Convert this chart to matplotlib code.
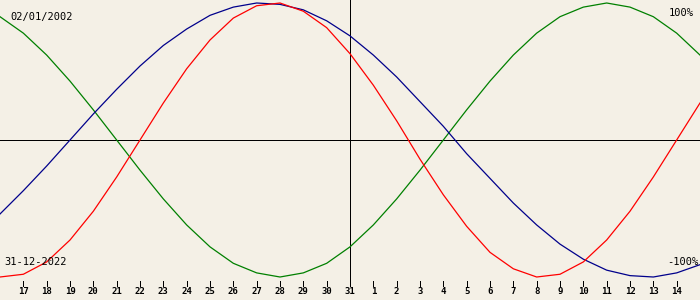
import numpy as np
import matplotlib.pyplot as plt

# biorhythm around 31-12-2022, one value per day (percent)
day_offset = np.arange(-15, 16)
day_labels = ['17', '18', '19', '20', '21', '22', '23', '24', '25', '26', '27', '28', '29', '30', '31',
              '1', '2', '3', '4', '5', '6', '7', '8', '9', '10', '11', '12', '13', '14']
label_offset = np.arange(-14, 15)

physical = [-100, -98, -89, -73, -52, -27, 0, 27, 52, 73, 89, 98, 100, 94, 82, 63,
            40, 14, -14, -40, -63, -82, -94, -100, -98, -89, -73, -52, -27, 0, 27]
emotional = [90, 78, 62, 43, 22, 0, -22, -43, -62, -78, -90, -97, -100, -97, -90, -78,
             -62, -43, -22, 0, 22, 43, 62, 78, 90, 97, 100, 97, 90, 78, 62]
intellectual = [-54, -37, -19, 0, 19, 37, 54, 69, 81, 91, 97, 100, 99, 95, 87, 76,
                62, 46, 28, 10, -10, -28, -46, -62, -76, -87, -95, -99, -100, -97, -91]

birth = '02/01/2002'
today = '31-12-2022'

bg = '#f4f0e6'
W, H = 700, 300
px = 200 / 274.0  # percent per pixel
one_px = 0.72     # line width of a single pixel at dpi 100

fig = plt.figure(figsize=(7, 3), dpi=100, facecolor=bg)
ax = fig.add_axes([0, 0, 1, 1], facecolor=bg)
ax.set_xlim(-15, 15)
ax.set_ylim(-100 - 23 * px, 100 + 3 * px)
ax.axis('off')

# axes cross
ax.axhline(0, color='black', lw=one_px, antialiased=False)
ax.axvline(0, ymin=20 / H, ymax=1, color='black', lw=one_px, antialiased=False)

ax.plot(day_offset, emotional, color='#008000', lw=0.9)
ax.plot(day_offset, intellectual, color='#00008b', lw=0.9)
ax.plot(day_offset, physical, color='#ff0000', lw=0.9)

# day ticks
ax.vlines(label_offset, -100 - 4 * px, -100 - 9 * px, color='black', lw=one_px, antialiased=False)
for x, lab in zip(label_offset, day_labels):
    ax.text(x, -100 - 15 * px, lab, ha='center', va='center', fontsize=6.5,
            fontweight='bold', family='DejaVu Sans Mono')

txt = dict(fontsize=7.5, family='DejaVu Sans Mono', va='center')
fig.text(10 / W, 1 - 17 / H, birth, ha='left', **txt)
fig.text(694 / W, 1 - 13 / H, '100%', ha='right', **txt)
fig.text(4 / W, 1 - 262 / H, today, ha='left', **txt)
fig.text(698 / W, 1 - 262 / H, '-100%', ha='right', **txt)

fig.savefig('out.png', dpi=100, facecolor=bg)
